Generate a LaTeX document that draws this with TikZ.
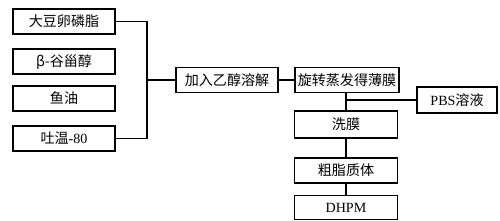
\documentclass[tikz,border=0pt]{standalone}
\usepackage{fontspec}
\setmainfont{Liberation Serif}
\newfontfamily\cjk{Noto Sans CJK SC}
\usepackage{tikz}
\usetikzlibrary{positioning, calc}

\begin{document}
\begin{tikzpicture}[x=0.3mm, y=-0.3mm,
    stepbox/.style={draw, line width=0.5mm, minimum height=7.5mm, inner sep=0pt,
        font=\fontsize{12}{14}\selectfont\cjk},
    link/.style={line width=0.55mm}]
            \useasboundingbox (0,0) rectangle (500,220);
            % Raw materials
            \node[stepbox, minimum width=30.6mm] (soy) at (64,21.5) {大豆卵磷脂};
            \node[stepbox, minimum width=30.6mm] (sterol) at (64,61.5) {β-谷甾醇};
            \node[stepbox, minimum width=30.6mm] (fishoil) at (64,98.5) {鱼油};
            \node[stepbox, minimum width=30.6mm] (tween) at (64,138.5) {吐温{\rmfamily -80}};
            % Process chain
            \node[stepbox, minimum width=30.6mm] (ethanol) at (227,80) {加入乙醇溶解};
            \node[stepbox, minimum width=31.2mm] (rotary) at (347,80) {旋转蒸发得薄膜};
            \node[stepbox, minimum width=24mm, minimum height=7.8mm] (pbs) at (457,100) {{\rmfamily PBS}溶液};
            \node[stepbox, minimum width=30.9mm, minimum height=8.1mm] (wash) at (346,124.5) {洗膜};
            \node[stepbox, minimum width=30.9mm] (crude) at (346,170.5) {粗脂质体};
            \node[stepbox, minimum width=30.9mm, minimum height=7.2mm, font=\fontsize{12}{14}\selectfont\rmfamily] (dhpm) at (346,207.5) {DHPM};
            % Bracket
            \coordinate (top) at (147,21.5);
            \coordinate (bot) at (147,138.5);
            \draw[link] (soy.east) -- (top) -- (bot) -- (tween.east);
            \draw[link] (top |- ethanol.west) -- (ethanol.west);
            \draw[link] (ethanol) -- (rotary);
            % Down the chain
            \draw[link] (rotary.south -| wash.north) -- (wash.north);
            \draw[link] (wash.north |- pbs.west) -- (pbs.west);
            \draw[link] (wash) -- (crude);
            \draw[link] (crude) -- (dhpm);
        \end{tikzpicture}
\end{document}
